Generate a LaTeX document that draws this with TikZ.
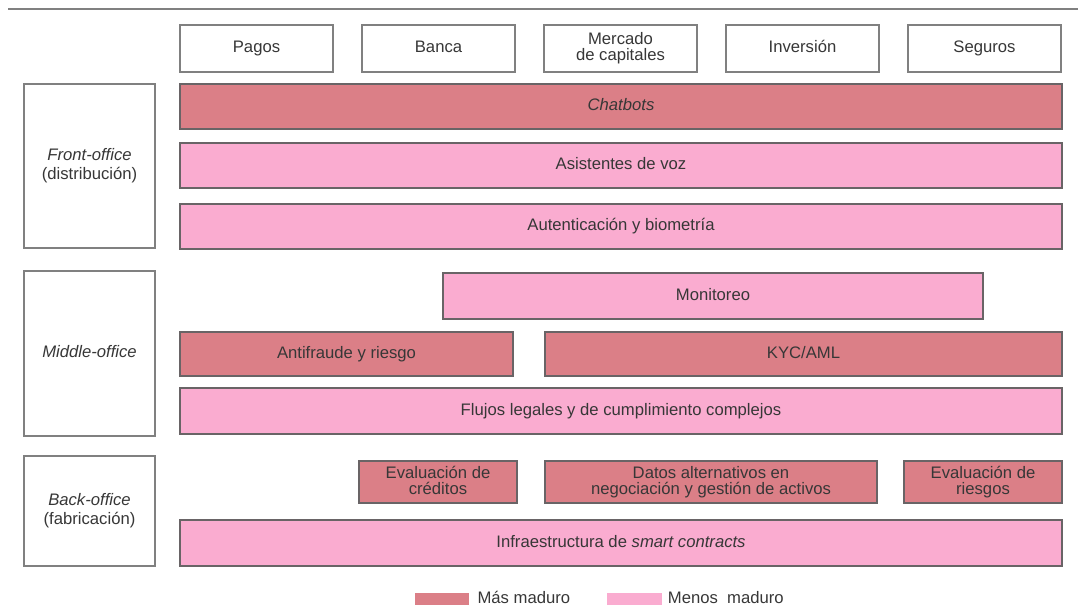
\documentclass[tikz,border=0pt]{standalone}
\usepackage{fontspec}
\setmainfont{Liberation Sans}
\usepackage{xcolor}
\usetikzlibrary{positioning}

\definecolor{maduro}{RGB}{219,127,135}
\definecolor{nuevo}{RGB}{250,172,208}
\definecolor{edgegray}{RGB}{128,128,128}
\definecolor{bargray}{RGB}{105,100,102}
\definecolor{textgray}{RGB}{55,55,55}

\newcommand{\bstrut}{\rule[-2.5pt]{0pt}{9pt}}

\begin{document}
\begin{tikzpicture}[x=0.75pt,y=-0.75pt,
    font=\fontsize{12.5}{12}\selectfont,text=textgray,
    wd/.style={minimum width=#1*0.75pt},
    ht/.style={minimum height=#1*0.75pt},
    box/.style={rectangle,draw=edgegray,line width=1.1pt,fill=white,inner sep=1pt,align=center,
        execute at begin node=\bstrut,execute at end node=\bstrut},
    bar/.style={rectangle,draw=bargray,line width=1.1pt,inner sep=1pt,align=center,
        execute at begin node=\bstrut,execute at end node=\bstrut},
    masbar/.style={bar,fill=maduro},
    menosbar/.style={bar,fill=nuevo},
    leytext/.style={inner sep=0pt,text height=9pt,text depth=2.5pt}]
    \useasboundingbox (0,0) rectangle (1078,609);

    % Top rule
    \draw[edgegray,line width=1.1pt] (8,9) -- (1078,9);

    % Business lines
    \node[box,wd=153,ht=47] (pagos) at (256.5,48.5) {Pagos};
    \node[box,wd=153,ht=47] (banca) at (438.5,48.5) {Banca};
    \node[box,wd=153,ht=47] (mercado) at (620.5,48.5) {Mercado\\de capitales};
    \node[box,wd=153,ht=47] (inversion) at (802.5,48.5) {Inversión};
    \node[box,wd=153,ht=47] (seguros) at (984.5,48.5) {Seguros};

    % Front-office
    \node[box,wd=131,ht=164] (front) at (89.5,166) {\textit{Front-office}\\[2pt](distribución)};
    \node[masbar,wd=882,ht=45] (chatbots) at (621,106.5) {\textit{Chatbots}};
    \node[menosbar,wd=882,ht=45] (voz) at (621,165.5) {Asistentes de voz};
    \node[menosbar,wd=882,ht=45] (auth) at (621,226.5) {Autenticación y biometría};

    % Middle-office
    \node[box,wd=131,ht=165] (middle) at (89.5,353.5) {\textit{Middle-office}};
    \node[menosbar,wd=540,ht=46] (monitoreo) at (713,296) {Monitoreo};
    \node[masbar,wd=333,ht=44] (fraude) at (346.5,354) {Antifraude y riesgo};
    \node[masbar,wd=517,ht=44] (kyc) at (803.5,354) {KYC/AML};
    \node[menosbar,wd=882,ht=46] (flujos) at (621,411) {Flujos legales y de cumplimiento complejos};

    % Back-office
    \node[box,wd=131,ht=110] (back) at (89.5,511) {\textit{Back-office}\\[2pt](fabricación)};
    \node[masbar,wd=158,ht=42] (creditos) at (438,482) {Evaluación de\\créditos};
    \node[masbar,wd=332,ht=42] (datos) at (711,482) {Datos alternativos en\\negociación y gestión de activos};
    \node[masbar,wd=158,ht=42] (riesgos) at (983,482) {Evaluación de\\riesgos};
    \node[menosbar,wd=882,ht=46] (infra) at (621,543) {Infraestructura de \textit{smart contracts}};

    % Legend
    \node[rectangle,fill=maduro,wd=54,ht=12,inner sep=0pt] (leymas) at (442,599) {};
    \node[leytext,right=6pt of leymas] (txtmas) {Más maduro};
    \node[rectangle,fill=nuevo,wd=55,ht=12,inner sep=0pt] (leymenos) at (634.5,599) {};
    \node[leytext,right=4pt of leymenos] (txtmenos) {Menos\ \ maduro};
\end{tikzpicture}
\end{document}
